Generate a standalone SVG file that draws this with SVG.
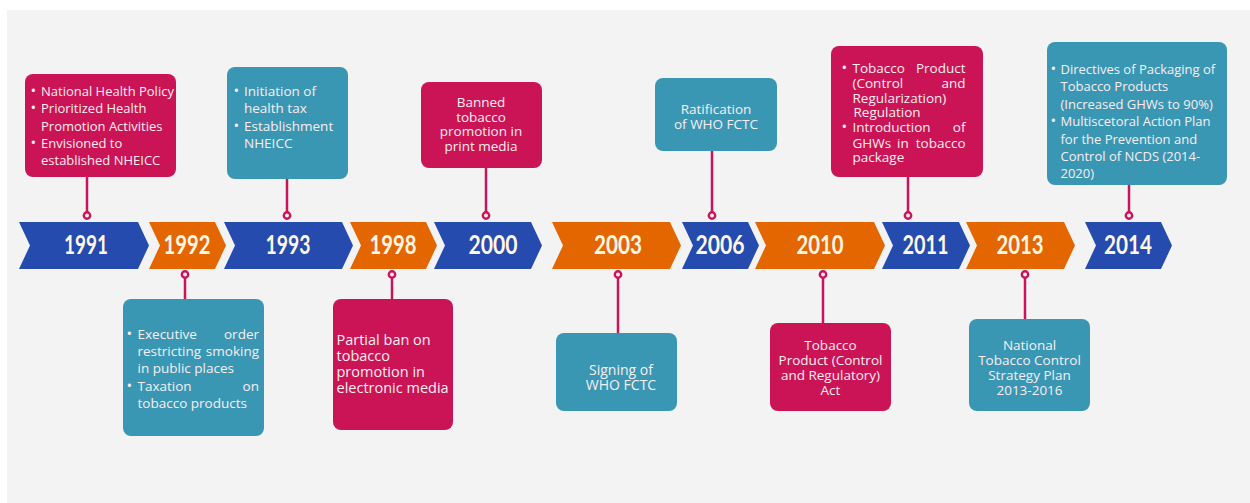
<svg xmlns="http://www.w3.org/2000/svg" width="1250" height="503" viewBox="0 0 1250 503">
<style>
.bg{fill:#f3f3f3}
.blue{fill:#244bad}
.orange{fill:#e46600}
.crim{fill:#cb1455}
.teal{fill:#3a97b4}
.yr{font-family:Lato,"Liberation Sans",sans-serif;font-weight:700;font-size:26px;fill:#fff7e6;text-anchor:middle}
.t{font-family:"Open Sans","Liberation Sans",sans-serif;font-size:13.5px;fill:#f8eef1}
.c{text-anchor:middle}
.e{text-anchor:end}
.b{font-size:15px}
.ln{stroke:#c9145a;stroke-width:2.5;fill:none}
.dot{fill:#f7e9ee;stroke:#c9145a;stroke-width:2.4}
</style>
<rect x="0" y="0" width="1250" height="503" fill="#ffffff"/>
<rect class="bg" x="7" y="10" width="1243" height="493"/>

<g id="timeline">
<g id="y1991"><polygon class="blue" points="19,222 138,222 149,245.5 138,269 19,269 30,245.5"/><text class="yr" x="86" y="254" textLength="44" lengthAdjust="spacingAndGlyphs">1991</text></g>
<g id="y1992"><polygon class="orange" points="149,222 215,222 226,245.5 215,269 149,269 160,245.5"/><text class="yr" x="187" y="254" textLength="47" lengthAdjust="spacingAndGlyphs">1992</text></g>
<g id="y1993"><polygon class="blue" points="224,222 342,222 353,245.5 342,269 224,269 235,245.5"/><text class="yr" x="288" y="254" textLength="45" lengthAdjust="spacingAndGlyphs">1993</text></g>
<g id="y1998"><polygon class="orange" points="350,222 426,222 437,245.5 426,269 350,269 361,245.5"/><text class="yr" x="393" y="254" textLength="47" lengthAdjust="spacingAndGlyphs">1998</text></g>
<g id="y2000"><polygon class="blue" points="434,222 531,222 542,245.5 531,269 434,269 445,245.5"/><text class="yr" x="493" y="254" textLength="49" lengthAdjust="spacingAndGlyphs">2000</text></g>
<g id="y2003"><polygon class="orange" points="552,222 670,222 681,245.5 670,269 552,269 563,245.5"/><text class="yr" x="618" y="254" textLength="48" lengthAdjust="spacingAndGlyphs">2003</text></g>
<g id="y2006"><polygon class="blue" points="682,222 748,222 759,245.5 748,269 682,269 693,245.5"/><text class="yr" x="720" y="254" textLength="49" lengthAdjust="spacingAndGlyphs">2006</text></g>
<g id="y2010"><polygon class="orange" points="755,222 874,222 885,245.5 874,269 755,269 766,245.5"/><text class="yr" x="820" y="254" textLength="47" lengthAdjust="spacingAndGlyphs">2010</text></g>
<g id="y2011"><polygon class="blue" points="882,222 959,222 970,245.5 959,269 882,269 893,245.5"/><text class="yr" x="925.5" y="254" textLength="46" lengthAdjust="spacingAndGlyphs">2011</text></g>
<g id="y2013"><polygon class="orange" points="966,222 1064,222 1075,245.5 1064,269 966,269 977,245.5"/><text class="yr" x="1020" y="254" textLength="47" lengthAdjust="spacingAndGlyphs">2013</text></g>
<g id="y2014"><polygon class="blue" points="1085,222 1161,222 1172,245.5 1161,269 1085,269 1096,245.5"/><text class="yr" x="1128" y="254" textLength="48" lengthAdjust="spacingAndGlyphs">2014</text></g>
</g>

<g id="connectors">
<line class="ln" x1="87" y1="177" x2="87" y2="212"/><circle class="dot" cx="87" cy="215.5" r="3.2"/>
<line class="ln" x1="287" y1="179" x2="287" y2="212"/><circle class="dot" cx="287" cy="215.5" r="3.2"/>
<line class="ln" x1="486" y1="168" x2="486" y2="212"/><circle class="dot" cx="486" cy="215.5" r="3.2"/>
<line class="ln" x1="712" y1="151" x2="712" y2="212"/><circle class="dot" cx="712" cy="215.5" r="3.2"/>
<line class="ln" x1="908" y1="177" x2="908" y2="212"/><circle class="dot" cx="908" cy="215.5" r="3.2"/>
<line class="ln" x1="1129" y1="185" x2="1129" y2="212"/><circle class="dot" cx="1129" cy="215.5" r="3.2"/>
<line class="ln" x1="185" y1="278" x2="185" y2="299"/><circle class="dot" cx="185" cy="274.5" r="3.2"/>
<line class="ln" x1="392" y1="278" x2="392" y2="299"/><circle class="dot" cx="392" cy="274.5" r="3.2"/>
<line class="ln" x1="618" y1="278" x2="618" y2="333"/><circle class="dot" cx="618" cy="274.5" r="3.2"/>
<line class="ln" x1="823" y1="278" x2="823" y2="323"/><circle class="dot" cx="823" cy="274.5" r="3.2"/>
<line class="ln" x1="1025" y1="278" x2="1025" y2="319"/><circle class="dot" cx="1025" cy="274.5" r="3.2"/>
</g>

<g id="box1991">
<rect class="crim" x="25" y="74" width="151" height="103" rx="8"/>
<text class="t" style="font-size:13px"><tspan class="b" x="30.5" y="96">•</tspan><tspan x="41" y="96">National Health Policy</tspan><tspan class="b" x="30.5" y="113">•</tspan><tspan x="41" y="113">Prioritized Health</tspan><tspan x="41" y="130.5">Promotion Activities</tspan><tspan class="b" x="30.5" y="148">•</tspan><tspan x="41" y="148">Envisioned to</tspan><tspan x="41" y="165">established NHEICC</tspan></text>
</g>

<g id="box1993">
<rect class="teal" x="227" y="67" width="121" height="112" rx="8"/>
<text class="t"><tspan class="b" x="233.5" y="96">•</tspan><tspan x="244" y="96">Initiation of</tspan><tspan x="244" y="113">health tax</tspan><tspan class="b" x="233.5" y="130.5">•</tspan><tspan x="244" y="130.5">Establishment</tspan><tspan x="244" y="147.5">NHEICC</tspan></text>
</g>

<g id="box2000">
<rect class="crim" x="421" y="82" width="121" height="86" rx="8"/>
<text class="t c"><tspan x="481" y="106.5">Banned</tspan><tspan x="481" y="121.5">tobacco</tspan><tspan x="481" y="136">promotion in</tspan><tspan x="481" y="150.5">print media</tspan></text>
</g>

<g id="box2006">
<rect class="teal" x="655" y="78" width="122" height="73" rx="8"/>
<text class="t c"><tspan x="716" y="114">Ratification</tspan><tspan x="716" y="129">of WHO FCTC</tspan></text>
</g>

<g id="box2011">
<rect class="crim" x="831" y="46" width="152" height="131" rx="8"/>
<text class="t"><tspan class="b" x="841.5" y="72.5">•</tspan><tspan x="852.5" y="72.5">Tobacco</tspan><tspan class="e" x="965.5" y="72.5">Product</tspan><tspan x="852.5" y="87.5">(Control</tspan><tspan class="e" x="965.5" y="87.5">and</tspan><tspan x="852.5" y="102.5">Regularization)</tspan><tspan x="853.5" y="116.5">Regulation</tspan><tspan class="b" x="841.5" y="132">•</tspan><tspan x="852.5" y="132">Introduction</tspan><tspan class="e" x="965.5" y="132">of</tspan><tspan x="852.5" y="147.5">GHWs</tspan><tspan x="897" y="147.5">in</tspan><tspan class="e" x="965.5" y="147.5">tobacco</tspan><tspan x="852.5" y="161.5">package</tspan></text>
</g>

<g id="box2014">
<rect class="teal" x="1047" y="42" width="180" height="143" rx="8"/>
<text class="t" style="font-size:13px"><tspan class="b" x="1050.5" y="73.5">•</tspan><tspan x="1060.5" y="73.5">Directives of Packaging of</tspan><tspan x="1060.5" y="91">Tobacco Products</tspan><tspan x="1060.5" y="108.5">(Increased GHWs to 90%)</tspan><tspan class="b" x="1050.5" y="126">•</tspan><tspan x="1060.5" y="126">Multiscetoral Action Plan</tspan><tspan x="1060.5" y="143.5">for the Prevention and</tspan><tspan x="1060.5" y="161">Control of NCDS (2014-</tspan><tspan x="1060.5" y="178">2020)</tspan></text>
</g>

<g id="box1992">
<rect class="teal" x="123" y="299" width="141" height="137" rx="8"/>
<text class="t"><tspan class="b" x="126.5" y="338.5">•</tspan><tspan x="137.5" y="338.5">Executive</tspan><tspan class="e" x="259" y="338.5">order</tspan><tspan x="137.5" y="355.5">restricting</tspan><tspan class="e" x="259" y="355.5">smoking</tspan><tspan x="137.5" y="372.5">in public places</tspan><tspan class="b" x="126.5" y="390.5">•</tspan><tspan x="137.5" y="390.5">Taxation</tspan><tspan class="e" x="259" y="390.5">on</tspan><tspan x="137.5" y="407.5">tobacco products</tspan></text>
</g>

<g id="box1998">
<rect class="crim" x="333" y="299" width="120" height="131" rx="8"/>
<text class="t" style="font-size:14.5px"><tspan x="336.5" y="345">Partial ban on</tspan><tspan x="336.5" y="361">tobacco</tspan><tspan x="336.5" y="377.3">promotion in</tspan><tspan x="336.5" y="393.3">electronic media</tspan></text>
</g>

<g id="box2003">
<rect class="teal" x="556" y="333" width="121" height="78" rx="8"/>
<text class="t c" style="font-size:14px"><tspan x="621" y="374.5">Signing of</tspan><tspan x="621" y="390">WHO FCTC</tspan></text>
</g>

<g id="box2010">
<rect class="crim" x="770" y="323" width="121" height="88" rx="8"/>
<text class="t c"><tspan x="830.5" y="349.5">Tobacco</tspan><tspan x="830.5" y="365">Product (Control</tspan><tspan x="830.5" y="380">and Regulatory)</tspan><tspan x="830.5" y="394.5">Act</tspan></text>
</g>

<g id="box2013">
<rect class="teal" x="969" y="319" width="121" height="92" rx="8"/>
<text class="t c"><tspan x="1029.5" y="349.5">National</tspan><tspan x="1029.5" y="365">Tobacco Control</tspan><tspan x="1029.5" y="380">Strategy Plan</tspan><tspan x="1029.5" y="394.5">2013-2016</tspan></text>
</g>
</svg>
